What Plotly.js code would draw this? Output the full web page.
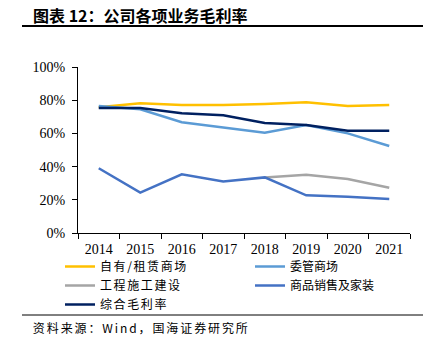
<!DOCTYPE html>
<html><head><meta charset="utf-8">
<script src="https://cdn.plot.ly/plotly-3.0.1.min.js"></script>
<style>html,body{margin:0;padding:0;background:#fff}#chart{width:431px;height:351px}
.legendtext{letter-spacing:1.6px}
g.annotation[data-index="1"] text{letter-spacing:1.9px}</style>
</head><body><div id="chart"></div>
<script>
const years = ['2014','2015','2016','2017','2018','2019','2020','2021'];
const ownLease = [75.7, 78.1, 77.1, 77.1, 77.7, 78.7, 76.5, 77.1];
const managed = [76.5, 74.5, 66.7, 63.7, 60.4, 65.1, 60.0, 52.4];
const construction = [null, null, null, null, 33.5, 35.1, 32.5, 27.3];
const sales = [39.0, 24.3, 35.4, 31.1, 33.5, 22.7, 21.9, 20.5];
const overall = [75.3, 75.3, 72.1, 70.9, 66.3, 65.1, 61.6, 61.6];
const names = ['自有/租赁商场','委管商场','工程施工建设','商品销售及家装','综合毛利率'];
const colors = ['#FFC000','#5B9BD5','#A5A5A5','#4472C4','#002060'];
const series = [ownLease, managed, construction, sales, overall];
const yTicks = [0,20,40,60,80,100];
const yTickText = ['0%','20%','40%','60%','80%','100%'];

const L=78, R=410, T=67, B=233;
const px = x => (x-L)/(R-L);
const py = y => (B-y)/(B-T);

const traces = series.map((s,i)=>({
  x: years, y: s.map(v=>v===null?null:v/100), name: names[i], type:'scatter', mode:'lines',
  line:{color:colors[i], width:2.5}, connectgaps:false, legendrank:i+1,
  legend: (i%2===0) ? 'legend' : 'legend2'
}));
const order=[2,0,1,3,4];
const data = order.map(i=>traces[i]);

const serif = "'Liberation Serif', 'Times New Roman', serif";
const cjk = "'Noto Sans CJK SC', sans-serif";
const legendBase = {orientation:'v', traceorder:'normal', xref:'paper', yref:'paper', y:py(252),
    xanchor:'left', yanchor:'top', font:{size:12, family:cjk, color:'#000'},
    itemwidth:30, bgcolor:'rgba(0,0,0,0)', tracegroupgap:0};
const layout = {
  width:431, height:351, margin:{l:L, r:431-R, t:T, b:351-B},
  paper_bgcolor:'#fff', plot_bgcolor:'#fff', showlegend:true,
  font:{family:serif, color:'#000', size:13},
  xaxis:{type:'category', range:[-0.5,7.5], showline:true, linecolor:'#000', linewidth:1, ticks:'outside', ticklen:5,
    tickcolor:'#000', tickson:'boundaries', showgrid:false, zeroline:false, ticklabelstandoff:3, automargin:false,
    tickfont:{size:14, family:serif, color:'#000'}},
  yaxis:{range:[0,1], tickvals:yTicks.map(v=>v/100), ticktext:yTickText, showline:true, linecolor:'#000', linewidth:1,
    ticks:'outside', ticklen:5, tickcolor:'#000', showgrid:false, zeroline:false, ticklabelstandoff:4, automargin:false,
    tickfont:{size:14, family:serif, color:'#000'}},
  legend: Object.assign({}, legendBase, {x:px(60)}),
  legend2: Object.assign({}, legendBase, {x:px(250)}),
  shapes:[
    {type:'line', xref:'paper', yref:'paper', x0:px(22), x1:px(423), y0:py(26), y1:py(26), line:{color:'#000', width:2}},
    {type:'line', xref:'paper', yref:'paper', x0:px(22), x1:px(423), y0:py(315), y1:py(315), line:{color:'#000', width:1}}
  ],
  annotations:[
    {xref:'paper', yref:'paper', x:px(31), y:py(15), xanchor:'left', yanchor:'middle', showarrow:false,
     text:'<b>图表 12：公司各项业务毛利率</b>', font:{size:16, family:cjk, color:'#000'}},
    {xref:'paper', yref:'paper', x:px(47), y:py(327), xanchor:'left', yanchor:'middle', showarrow:false,
     text:'资料来源：Wind，国海证券研究所', font:{size:12, family:cjk, color:'#000'}}
  ]
};
Plotly.newPlot('chart', data, layout, {displayModeBar:false, staticPlot:true});
</script></body></html>
